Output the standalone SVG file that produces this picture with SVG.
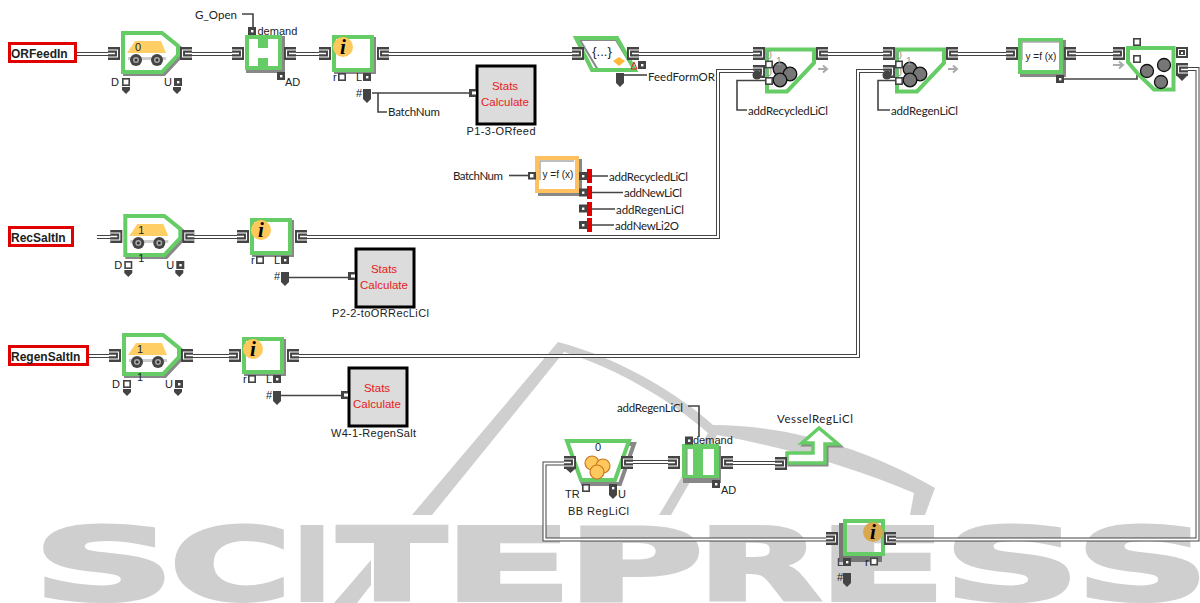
<svg xmlns="http://www.w3.org/2000/svg" width="1200" height="603" viewBox="0 0 1200 603">
<style>
text{font-family:"Liberation Sans",Arial,sans-serif;font-size:11px;fill:#222}
.c{font-family:Lato,"Liberation Sans",sans-serif;font-size:11.5px;fill:#222}
text.wm{font-family:"DejaVu Sans",sans-serif;font-weight:700;font-size:100px;fill:#cfcfcf;stroke:#cfcfcf;stroke-width:4;stroke-linejoin:miter}
.in{font-weight:700;font-size:12px;fill:#222}
.red{fill:#e62020;font-size:11.5px;text-anchor:middle}
.mid{text-anchor:middle}
.i{font-family:"Liberation Serif",serif;font-weight:700;font-style:italic;font-size:21px;fill:#000;text-anchor:middle}
.g0{fill:#999;font-size:10.5px}
.box{fill:#fff;stroke:#e00000;stroke-width:3}
.o{fill:none;stroke:#444;stroke-width:4;stroke-linejoin:miter}
.w{fill:none;stroke:#fff;stroke-width:2;stroke-linejoin:miter}
.s{fill:none;stroke:#444;stroke-width:1.6}
.gr{stroke:#66cc66;stroke-width:4;fill:#fff;stroke-linejoin:miter}
.sh{stroke:#888;stroke-width:4;fill:#888;stroke-linejoin:miter}
.st{fill:#dcdcdc;stroke:#000;stroke-width:3}
.ball{fill:#777;stroke:#111;stroke-width:1.3}
.oball{fill:#ffc85c;stroke:#c87820;stroke-width:1.2}
.ga{fill:none;stroke:#aaa;stroke-width:2}
</style>
<defs>
<g id="pi"><rect width="12" height="13" fill="#444"/><path d="M0,3H9.5V10H0" fill="none" stroke="#fff" stroke-width="1.1"/><path d="M0,6.5H7" stroke="#fff" stroke-width="1.5"/></g>
<g id="po"><rect width="12" height="13" fill="#444"/><path d="M12,3H2.5V10H12" fill="none" stroke="#fff" stroke-width="1.1"/><path d="M12,6.5H5" stroke="#fff" stroke-width="1.5"/></g>
<g id="sq"><rect x=".8" y=".8" width="6.4" height="6.4" fill="#fff" stroke="#444" stroke-width="1.6"/></g>
<g id="sqd"><rect width="8" height="8" fill="#444"/><rect x="3" y="3" width="2.4" height="2.4" fill="#fff"/></g>
<path id="dn" d="M0,0H8V3L4,7L0,3Z" fill="#444"/>
<path id="tag" d="M0,0H8V10L4,14L0,10Z" fill="#444"/>
<g id="vehicle">
<path class="sh" d="M125,35H164L180,48V57L164,74H125Z"/>
<path class="gr" d="M123,33H162L178,46V55L162,72H123Z"/>
<path d="M127,53H166L161,41H135Z" fill="#ffcf66"/>
<rect x="128" y="57" width="38" height="3" fill="#ccc"/>
<g fill="#444"><circle cx="136" cy="60" r="6"/><circle cx="157" cy="60" r="6"/></g>
<g fill="#aaa"><circle cx="136" cy="60" r="3"/><circle cx="157" cy="60" r="3"/></g>
<g fill="#333"><circle cx="136" cy="60" r="1.5"/><circle cx="157" cy="60" r="1.5"/></g>
<use href="#pi" x="108" y="47"/><use href="#po" x="180" y="47"/>
<use href="#sq" x="122" y="78"/><use href="#sqd" x="174" y="78"/>
<use href="#dn" x="122" y="87"/><use href="#dn" x="173" y="87"/>
</g>
<g id="info">
<rect class="sh" x="336" y="39" width="38" height="33"/>
<rect class="gr" x="334" y="37" width="38" height="33"/>
<circle cx="343" cy="47" r="10" fill="#ffc85c"/>
<use href="#pi" x="319" y="47"/><use href="#po" x="377" y="47"/>
<use href="#sq" x="338" y="73"/><use href="#sqd" x="363" y="73"/>
<use href="#tag" x="363" y="89"/>
</g>
<g id="stats">
<rect class="st" x="477" y="66" width="58" height="58"/>
<rect x="469" y="89" width="7" height="8" fill="#444"/><rect x="472" y="91.500" width="4" height="3" fill="#fff"/>
</g>
<g id="mixer">
<path class="gr" d="M897,49.500H944V63L917,91.500H897Z"/>
<circle class="ball" cx="910" cy="69" r="6.800"/><circle class="ball" cx="920" cy="74" r="6.800"/><circle class="ball" cx="910" cy="80" r="6.800"/>
<use href="#pi" x="883" y="47"/><use href="#pi" x="883" y="65"/><circle cx="887" cy="75" r="4.500" fill="#444"/>
<use href="#po" x="946" y="47"/>
<use href="#sq" x="895" y="60.500"/><use href="#sq" x="895" y="77"/>
<path class="ga" d="M948,69H956M953,65.500L957,69L953,72.500"/>
</g>
</defs>

<g id="watermark">
<text class="wm" x="33" y="600" textLength="142" lengthAdjust="spacingAndGlyphs">S</text>
<text class="wm" x="170" y="600" textLength="121" lengthAdjust="spacingAndGlyphs">C</text>
<text class="wm" x="293.500" y="600" textLength="37" lengthAdjust="spacingAndGlyphs">I</text>
<text class="wm" x="338" y="600" textLength="108" lengthAdjust="spacingAndGlyphs">T</text>
<text class="wm" x="444" y="600" textLength="128" lengthAdjust="spacingAndGlyphs">E</text>
<text class="wm" x="567" y="600" textLength="136" lengthAdjust="spacingAndGlyphs">P</text>
<text class="wm" x="698" y="600" textLength="123" lengthAdjust="spacingAndGlyphs">R</text>
<text class="wm" x="818" y="600" textLength="128" lengthAdjust="spacingAndGlyphs">E</text>
<text class="wm" x="944" y="600" textLength="136" lengthAdjust="spacingAndGlyphs">S</text>
<text class="wm" x="1076" y="600" textLength="133" lengthAdjust="spacingAndGlyphs">S</text>
<path fill="#cfcfcf" d="M412,515L558,342C620,358 680,395 713,425C790,425 870,450 935,488L925,515H910L914,493C860,470 790,448 717,435L671,515H659L708,433C670,400 620,370 564,352L432,515Z"/>
<path fill="#cfcfcf" d="M371,560V585L357,603H334Z"/>
<path fill="#cfcfcf" d="M610,583H619L611,598Z"/>
</g>

<g id="connectors">
<path class="o" d="M76,54H110M190,54H234M294,54H321M387,54H574M636,54H755M826,54H885M956,54H1008M1074,54H1115"/>
<path class="o" d="M97,237H112M192,237H239M305,237H718V71H755"/>
<path class="o" d="M87,356H110M191,356H231M296,356H858V71H885"/>
<path class="o" d="M631,462H670M731,463H777"/>
<path class="o" d="M1186,69H1197.500V539.500H894M828,539.500H544.500V463.500H566"/>
<path class="w" d="M76,54H110M190,54H234M294,54H321M387,54H574M636,54H755M826,54H885M956,54H1008M1074,54H1115"/>
<path class="w" d="M97,237H112M192,237H239M305,237H718V71H755"/>
<path class="w" d="M87,356H110M191,356H231M296,356H858V71H885"/>
<path class="w" d="M631,462H670M731,463H777"/>
<path class="w" d="M1186,69H1197.500V539.500H894M828,539.500H544.500V463.500H566"/>
<path class="s" d="M242,14H253V27"/>
<path class="s" d="M372,93H469M378,93V112H387"/>
<path class="s" d="M289,277.500H349"/>
<path class="s" d="M281,395.500H342"/>
<path class="s" d="M624,75H647"/>
<path class="s" d="M509,175.500H529"/>
<path class="s" d="M587,176H608M587,192.500H623M587,209H615M587,225H614"/>
<path class="s" d="M766,80.500H737V110H747"/>
<path class="s" d="M896,80.500H878V110H890"/>
<path class="s" d="M1063,79H1137V61"/>
<path class="s" d="M688,406H699V437"/>
</g>

<g id="ORFeedIn"><rect class="box" x="9.500" y="43.500" width="66" height="18"/><text class="in" x="11" y="58">ORFeedIn</text></g>
<g id="RecSaltIn"><rect class="box" x="9.500" y="227.500" width="63" height="18"/><text class="in" x="11" y="241.500">RecSaltIn</text></g>
<g id="RegenSaltIn"><rect class="box" x="9.500" y="346.500" width="78" height="18"/><text class="in" x="11" y="360.500">RegenSaltIn</text></g>

<g id="vehicle1"><use href="#vehicle"/><text x="135" y="51">0</text><text x="111" y="86">D</text><text x="164" y="86">U</text></g>
<g id="vehicle2" transform="translate(2.300,183)"><use href="#vehicle"/><text x="136" y="51">1</text><text x="136" y="79">1</text><text x="112" y="86">D</text><text x="164" y="86">U</text></g>
<g id="vehicle3" transform="translate(1,302)"><use href="#vehicle"/><text x="136" y="51">1</text><text x="136" y="79">1</text><text x="111" y="86">D</text><text x="164" y="86">U</text></g>

<g id="gate1">
<rect class="sh" x="248" y="38" width="35" height="33"/>
<rect x="245" y="35" width="37" height="35" fill="#66cc66"/>
<path fill="#fff" d="M249,39H258V48H268V39H278V66H268V58H258V66H249Z"/>
<use href="#pi" x="232" y="47"/><use href="#po" x="284" y="47"/>
<use href="#sqd" x="248" y="27"/><use href="#sqd" x="277" y="72"/>
<text x="257.500" y="35">demand</text><text x="285" y="86">AD</text><text class="c" x="195" y="19" textLength="42">G_Open</text>
</g>

<g id="info1"><use href="#info"/><text class="i" x="343" y="54">i</text><text x="333" y="81">r</text><text x="356" y="81">L</text><text x="356" y="97">#</text><text class="c" x="388" y="116" textLength="52">BatchNum</text></g>
<g id="info2" transform="translate(-82,183)"><use href="#info"/><text class="i" x="343" y="54">i</text><text x="333" y="81">r</text><text x="356" y="81">L</text><text x="356" y="97">#</text></g>
<g id="info3" transform="translate(-90,302)"><use href="#info"/><text class="i" x="343" y="54">i</text><text x="333" y="81">r</text><text x="356" y="81">L</text><text x="356" y="97">#</text></g>

<g id="stats1"><use href="#stats"/><text class="red" x="505" y="90">Stats</text><text class="red" x="505" y="106">Calculate</text><text class="mid" x="501" y="135" textLength="69">P1-3-ORfeed</text></g>
<g id="stats2" transform="translate(-121,183)"><use href="#stats"/><text class="red" x="505" y="90">Stats</text><text class="red" x="505" y="106">Calculate</text><text x="453" y="134" textLength="97">P2-2-toORRecLiCl</text></g>
<g id="stats3" transform="translate(-128,302)"><use href="#stats"/><text class="red" x="505" y="90">Stats</text><text class="red" x="505" y="106">Calculate</text><text x="459" y="135" textLength="85">W4-1-RegenSalt</text></g>

<g id="select">
<path fill="#fff" stroke="#888" stroke-width="2" d="M580,40H616L634,70H598Z"/>
<path fill="none" stroke="#66cc66" stroke-width="4" d="M576,38H617L635,70H592Z"/>
<text class="mid" x="602" y="56" style="font-size:13px">{...}</text>
<path d="M613,61L619,57L625,61L619,66Z" fill="#ffb938"/>
<path d="M631,69L634,62L637,69Z" fill="none" stroke="#e02020"/>
<use href="#pi" x="572" y="47"/><use href="#po" x="627" y="47"/>
<use href="#sqd" x="638" y="61"/><use href="#tag" x="616" y="73"/>
<text class="c" x="648" y="81" textLength="67">FeedFormOR</text>
</g>

<g id="mixer1" transform="translate(-130,0)"><use href="#mixer"/><text class="g0" x="896" y="59">0</text><text class="g0" x="906" y="65">1</text><text class="g0" x="896" y="76">0</text></g>
<text class="c" x="748" y="115" textLength="80">addRecycledLiCl</text>
<g id="mixer2"><use href="#mixer"/><text class="g0" x="896" y="59">0</text><text class="g0" x="906" y="65">1</text><text class="g0" x="896" y="76">0</text><text class="c" x="891" y="115" textLength="67">addRegenLiCl</text></g>

<g id="fn1">
<rect class="sh" x="1022" y="42" width="42" height="33"/>
<rect class="gr" x="1020" y="40" width="41" height="32"/>
<path d="M1022,60V42H1059" fill="none" stroke="#aaa" stroke-width="1.500"/>
<text class="mid" x="1041" y="60" style="font-size:10px">y =f (x)</text>
<use href="#pi" x="1006" y="47"/><use href="#po" x="1064" y="47"/><use href="#sqd" x="1056" y="75"/>
</g>

<g id="mixer3">
<path class="gr" d="M1128,48H1173.500V89.500H1154L1138,74L1128,62Z"/>
<circle class="ball" cx="1147" cy="71" r="6.500"/><circle class="ball" cx="1164" cy="65" r="6.500"/><circle class="ball" cx="1161" cy="82" r="6.500"/>
<use href="#pi" x="1113" y="47"/>
<use href="#sq" x="1133" y="38"/><use href="#sq" x="1133" y="55"/>
<path class="ga" d="M1113,65H1122M1119,61.500L1123,65L1119,68.500"/>
<rect x="1176" y="47" width="12" height="11" fill="#444"/><rect x="1178.500" y="49.500" width="7" height="6" fill="none" stroke="#fff"/><rect x="1181" y="52" width="2" height="2" fill="#fff"/>
<use href="#po" x="1176" y="63"/><path d="M1177,76H1187L1182,81Z" fill="#444"/>
</g>

<g id="fn2">
<rect class="sh" x="540" y="161" width="40" height="33"/>
<rect class="gr" x="537" y="158" width="40" height="33" style="stroke:#ffc060"/>
<path d="M540,180V161H574" fill="none" stroke="#aaa" stroke-width="1.500"/>
<text class="mid" x="558" y="178" style="font-size:10px">y =f (x)</text>
<rect x="528" y="172" width="8" height="7.500" fill="#444"/><rect x="530" y="174" width="3.500" height="3.500" fill="#fff"/>
<text class="c" x="453" y="180" textLength="50">BatchNum</text>
<use href="#sqd" x="579" y="172"/><use href="#sqd" x="579" y="188.500"/><use href="#sqd" x="579" y="204.500"/><use href="#sqd" x="579" y="221"/>
<path fill="#e00000" d="M587,169h5v14h-5zM587,186h5v13h-5zM587,202h5v14h-5zM587,218h5v14h-5z"/>
<text class="c" x="609" y="181" textLength="79">addRecycledLiCl</text>
<text class="c" x="624" y="197" textLength="58">addNewLiCl</text>
<text class="c" x="616" y="214" textLength="68">addRegenLiCl</text>
<text class="c" x="615" y="230" textLength="64">addNewLi2O</text>
</g>

<g id="BBRegLiCl">
<path class="sh" d="M569,444H634L620,484H583Z" style="fill:none"/>
<path class="gr" d="M567,441H629L615,480H581Z"/>
<text x="595" y="451">0</text>
<circle class="oball" cx="592" cy="463" r="7"/><circle class="oball" cx="603" cy="466" r="7"/><circle class="oball" cx="597" cy="472" r="7"/>
<use href="#pi" x="564" y="456"/><path d="M566,469H575L570.500,473Z" fill="#444"/>
<use href="#po" x="621" y="456"/>
<use href="#sq" x="582" y="484"/><use href="#sqd" x="609" y="484"/><use href="#dn" x="609" y="492"/>
<text x="565" y="498">TR</text><text x="618" y="498">U</text><text x="568" y="515" textLength="61">BB RegLiCl</text>
</g>

<g id="gate2">
<rect class="sh" x="685" y="448" width="34" height="33"/>
<rect x="682" y="444" width="37" height="34" fill="#66cc66"/>
<rect x="687" y="449" width="6" height="26" fill="#fff"/><rect x="703" y="449" width="11" height="26" fill="#fff"/>
<path d="M687,475V449" stroke="#888" stroke-width="1"/>
<use href="#pi" x="668" y="456"/><use href="#po" x="721" y="456"/>
<use href="#sqd" x="685" y="436.500"/><use href="#sqd" x="712" y="480"/>
<text x="693" y="444">demand</text><text x="721" y="494">AD</text>
<text class="c" x="617" y="412" textLength="66">addRegenLiCl</text>
</g>

<g id="VesselRegLiCl">
<path d="M789,455H815V445H804L821,430L840,446H827V465H789Z" fill="none" stroke="#888" stroke-width="3"/>
<path d="M787,453H813V443H802L819,428L838,444H825V463H787Z" fill="#fff" stroke="#66cc66" stroke-width="3.500"/>
<use href="#pi" x="775" y="457"/>
<text class="c" x="777" y="423" textLength="76">VesselRegLiCl</text>
</g>

<g id="info4">
<path d="M842,523V559H882" fill="none" stroke="#777" stroke-width="6"/>
<rect x="845" y="521" width="38" height="33" fill="none" stroke="#66cc66" stroke-width="4"/>
<circle cx="873" cy="532" r="10" fill="#d9a84e"/>
<text class="i" x="873" y="539">i</text>
<use href="#pi" x="826" y="532"/><use href="#po" x="884" y="532"/>
<use href="#sqd" x="843" y="558"/><use href="#sq" x="870" y="557.500"/><use href="#tag" x="843" y="573"/>
<text x="837" y="566">L</text><text x="865" y="566">r</text><text x="837" y="581">#</text>
</g>
</svg>
